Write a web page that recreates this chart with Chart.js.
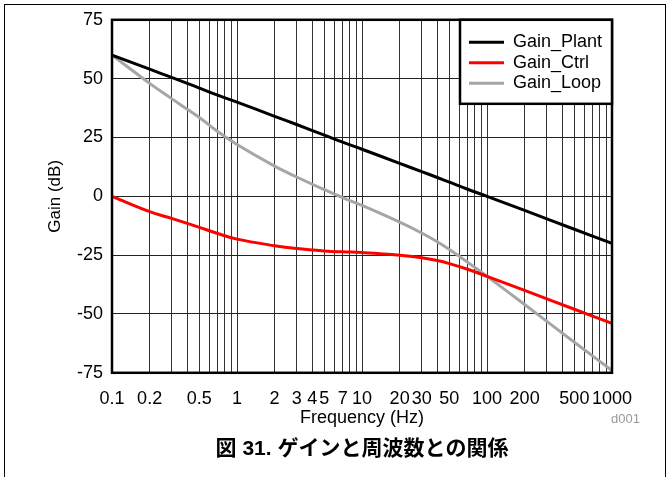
<!DOCTYPE html>
<html lang="ja">
<head>
<meta charset="UTF-8">
<title>ゲインと周波数との関係</title>
<script src="https://cdn.jsdelivr.net/npm/chart.js"></script>
<style>
  html, body { margin: 0; padding: 0; background: #fff; }
  canvas { display: block; }
</style>
</head>
<body>
<canvas id="myChart" width="670" height="477"></canvas>
<script>
// frequency points (Hz)
const freq      = [0.1, 0.2, 0.3, 0.4, 0.5, 0.7, 1, 2, 3, 5, 7, 10, 20, 30, 40, 50, 70, 100, 200, 500, 1000];
// gains (dB)
const gainPlant = [60, 54, 50.5, 48, 46, 43, 40, 34, 30.5, 26, 23, 20, 14, 10.5, 8, 6, 3, 0, -6, -14, -20];
const gainCtrl  = [0, -6.5, -9.4, -11.5, -13.2, -15.8, -18.2, -21, -22.2, -23.2, -23.6, -23.9, -25, -26.1, -27.3, -28.6, -31, -34, -40, -48, -54];
const gainLoop  = [60, 48, 41.5, 37, 33.5, 27.5, 22, 12.8, 8.2, 2.8, -0.6, -3.9, -11, -15.6, -19.3, -22.6, -28, -34, -46, -62, -74];

const seriesNames  = ['Gain_Plant', 'Gain_Ctrl', 'Gain_Loop'];
const seriesColors = ['#000000', '#ff0000', '#a6a6a6'];

// labelled ticks on the x axis, gridlines at every 1..9 x decade
const xTickLabels = [0.1, 0.2, 0.5, 1, 2, 3, 4, 5, 7, 10, 20, 30, 50, 100, 200, 500, 1000];
const xDecades    = [-1, 0, 1, 2];
const yMin = -75, yMax = 75, yStep = 25;

const captionText = '図 31. ゲインと周波数との関係';
const noteText = 'd001';

const FONT = '"Liberation Sans", Arial, sans-serif';

function toPoints(arr) {
    return freq.map((f, i) => ({x: f, y: arr[i]}));
}

// gridline positions
let xGrid = [];
xDecades.forEach(k => {
    for (let m = 1; m <= 9; m++) xGrid.push(Number((m * Math.pow(10, k)).toPrecision(3)));
});
xGrid.push(1000);

// outer border, plot frame, legend box, note text
const extras = {
    id: 'extras',
    beforeDraw(chart) {
        const ctx = chart.ctx;
        ctx.save();
        ctx.strokeStyle = '#000';
        ctx.lineWidth = 1;
        ctx.strokeRect(4.5, 4.5, 661, 490);
        ctx.restore();
    },
    afterDatasetsDraw(chart) {
        const {ctx, chartArea} = chart;
        ctx.save();
        ctx.strokeStyle = '#000';
        ctx.lineWidth = 2.5;
        ctx.strokeRect(chartArea.left, chartArea.top, chartArea.right - chartArea.left, chartArea.bottom - chartArea.top);

        // legend
        const w = 152, h = 84;
        const x0 = chartArea.right - w, y0 = chartArea.top;
        ctx.fillStyle = '#fff';
        ctx.fillRect(x0, y0, w, h);
        ctx.strokeRect(x0, y0, w, h);
        ctx.font = '18px ' + FONT;
        ctx.textBaseline = 'middle';
        ctx.textAlign = 'left';
        chart.data.datasets.forEach((ds, i) => {
            const y = y0 + 22.5 + i * 20.5;
            ctx.strokeStyle = ds.borderColor;
            ctx.lineWidth = 3;
            ctx.beginPath();
            ctx.moveTo(x0 + 9, y);
            ctx.lineTo(x0 + 44, y);
            ctx.stroke();
            ctx.fillStyle = '#000';
            ctx.fillText(ds.label, x0 + 53, y);
        });

        // small note
        ctx.font = '13px ' + FONT;
        ctx.fillStyle = '#999';
        ctx.textAlign = 'right';
        ctx.fillText(noteText, 640, 419);
        ctx.restore();
    }
};

const ctx = document.getElementById('myChart');
const myChart = new Chart(ctx, {
    type: 'line',
    data: {
        datasets: [
            {label: seriesNames[0], data: toPoints(gainPlant), borderColor: seriesColors[0]},
            {label: seriesNames[1], data: toPoints(gainCtrl), borderColor: seriesColors[1]},
            {label: seriesNames[2], data: toPoints(gainLoop), borderColor: seriesColors[2]}
        ].map(d => Object.assign(d, {
            borderWidth: 3, pointRadius: 0, fill: false, tension: 0.4
        }))
    },
    options: {
        responsive: false,
        animation: false,
        events: [],
        layout: {padding: {left: 0, top: 18, right: 58, bottom: 15}},
        plugins: {
            legend: {display: false},
            tooltip: {enabled: false},
            title: {
                display: true,
                position: 'bottom',
                fullSize: false,
                text: captionText,
                color: '#000',
                padding: {top: 0, bottom: 0},
                font: {family: '"Liberation Sans", "Noto Sans CJK JP", sans-serif', size: 21, weight: 'bold', lineHeight: 1.2}
            }
        },
        scales: {
            x: {
                type: 'logarithmic',
                min: 0.1,
                max: 1000,
                afterBuildTicks: scale => {
                    scale.ticks = xGrid.map(v => ({value: v}));
                },
                afterFit: scale => { scale.height = 64; },
                ticks: {
                    autoSkip: false,
                    maxRotation: 0,
                    minRotation: 0,
                    padding: 15,
                    color: '#000',
                    font: {family: FONT, size: 18},
                    callback: v => xTickLabels.some(t => Math.abs(t - v) < t * 1e-6) ? String(v) : ''
                },
                grid: {color: '#333', lineWidth: 1, drawTicks: false},
                border: {display: false},
                title: {
                    display: true,
                    text: 'Frequency (Hz)',
                    color: '#000',
                    font: {family: FONT, size: 18},
                    padding: {top: 0, bottom: 8}
                }
            },
            y: {
                min: yMin,
                max: yMax,
                afterFit: scale => { scale.width = 112; },
                ticks: {
                    stepSize: yStep,
                    padding: 9,
                    color: '#000',
                    font: {family: FONT, size: 18}
                },
                grid: {color: '#222', lineWidth: 1, drawTicks: false},
                border: {display: false},
                title: {
                    display: true,
                    text: 'Gain (dB)',
                    color: '#000',
                    font: {family: FONT, size: 17},
                    padding: {top: 45, bottom: 0}
                }
            }
        }
    },
    plugins: [extras]
});
</script>
</body>
</html>
